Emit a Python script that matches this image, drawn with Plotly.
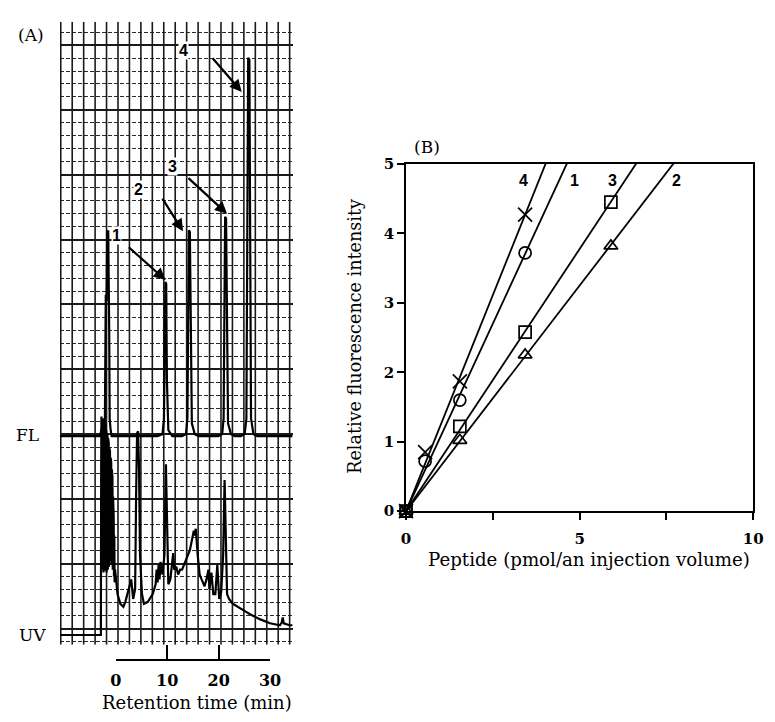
import plotly.graph_objects as go

# ---------------- Panel A: chromatogram (retention time in min, signal in arbitrary units)
fl_time = [-10.9, -3.10, -2.72, -2.53, -2.34, -2.15, -1.96, -1.81, -1.67, -1.48, -1.29, -1.20, -1.01, -0.82,
           8.10, 9.07, 9.36, 9.55, 9.64, 9.80, 9.93, 10.21, 10.97,
           12.88, 13.64, 13.92, 14.11, 14.21, 14.40, 14.59, 14.78, 15.35, 16.11,
           19.92, 20.68, 20.96, 21.15, 21.25, 21.44, 21.63, 21.82, 22.39, 23.15,
           24.29, 25.05, 25.39, 25.62, 25.74, 25.97, 26.10, 26.29, 26.76, 27.52, 34.4]
fl_signal = [212, 212, 220, 205, 230, 210, 357, 350, 422, 422, 320, 230, 218, 212,
             212, 214, 230, 320, 370, 368, 270, 218, 212,
             212, 214, 230, 350, 423, 421, 320, 225, 214, 212,
             212, 214, 230, 350, 437, 435, 320, 225, 214, 212,
             212, 214, 230, 450, 600, 598, 450, 230, 214, 212, 212]

uv_time = [-10.9, -2.91, -2.85, -2.80, -2.75, -2.70, -2.64, -2.58, -2.52, -2.46, -2.40, -2.34, -2.28,
           -2.22, -2.16, -2.10, -2.04, -1.98, -1.92, -1.86, -1.80, -1.74, -1.68, -1.62, -1.56, -1.50,
           -1.44, -1.38, -1.32, -1.26, -1.20, -1.14, -1.08, -1.02, -0.96, -0.90, -0.84, -0.78, -0.72,
           -0.66, -0.60, -0.54, -0.48, -0.42, -0.36, -0.30, -0.24, -0.15,
           -0.06, 0.32, 0.89, 1.46, 1.85, 2.23, 2.61, 2.99, 3.37, 3.75, 3.94, 4.13,
           4.32, 4.51, 4.70, 5.08, 5.46, 6.22, 7.17, 7.74, 7.93, 8.12, 8.31, 8.50, 8.69, 9.07, 9.45,
           9.74, 10.02, 10.21, 10.60, 10.97, 11.16, 11.35, 11.74, 12.12, 12.50, 12.88, 13.26, 13.64,
           14.02, 14.40, 14.78, 15.16, 15.35, 15.54, 15.92, 16.30, 16.68, 17.25, 17.63, 18.01, 18.20,
           18.58, 18.96, 19.35, 19.73, 20.11, 20.49, 20.87, 21.15, 21.44, 21.63, 22.01, 22.77, 24.29,
           26.19, 28.09, 29.99, 31.89, 32.27, 32.46, 32.65, 33.79, 34.4]
uv_signal = [8, 8, 180, 232, 90, 228, 75, 230, 80, 225, 72, 222, 78,
             226, 74, 220, 80, 224, 76, 218, 72, 215, 82, 212, 75, 210,
             85, 205, 78, 200, 90, 196, 84, 190, 88, 185, 80, 178, 92,
             170, 75, 150, 82, 130, 68, 110, 62, 75,
             70, 50, 40, 37, 42, 50, 60, 65, 45, 55, 150, 215,
             217, 180, 90, 50, 40, 42, 50, 60, 75, 62, 80, 65, 83, 70, 90,
             183, 110, 60, 65, 80, 92, 75, 78, 70, 75, 75, 80, 85,
             90, 95, 105, 115, 110, 117, 90, 70, 65, 58, 65, 75, 55,
             72, 50, 50, 80, 45, 52, 90, 167, 100, 50, 45, 40, 35,
             29, 24, 20, 18, 21, 26, 20, 18, 18]

time_ticks = [0, 10, 20, 30]
peak_labels = ["1", "2", "3", "4"]
label_time = [0.13, 4.34, 10.98, 13.07]
label_signal = [418, 465, 488, 607]
arrow_tail_time = [2.23, 8.88, 13.83, 18.58]
arrow_tail_signal = [407, 457, 478, 601]
arrow_head_time = [9.68, 13.07, 21.63, 24.48]
arrow_head_signal = [372, 422, 440, 565]

# ---------------- Panel B: calibration lines
x_low = [0, 0.55, 1.55, 3.43]
x_high = [0, 1.55, 3.43, 5.9]
y_pep4 = [0, 0.85, 1.87, 4.27]
y_pep1 = [0, 0.72, 1.60, 3.72]
y_pep3 = [0, 1.22, 2.58, 4.45]
y_pep2 = [0, 1.02, 2.25, 3.82]
series_names = ["4", "1", "3", "2"]
series_x = [x_low, x_low, x_high, x_high]
series_y = [y_pep4, y_pep1, y_pep3, y_pep2]
series_symbols = ["x-thin-open", "circle-open", "square-open", "triangle-up-open"]
series_sizes = [14, 12, 12, 12]
series_label_x = [3.38, 4.85, 5.95, 7.78]
series_label_y = [4.76, 4.76, 4.76, 4.76]
x_tick_vals = [0, 2.5, 5, 7.5, 10]
x_tick_text = ["0", "", "5", "", "10"]
y_tick_vals = [0, 1, 2, 3, 4, 5]

W, H = 775, 722
SERIF = "DejaVu Serif"
SANS = "Liberation Sans"

# chart-paper grid (styling): vertical rulings every 2.2256 min starting at -10.71 min
chart_grid = [-10.71 + 2.2256 * k for k in range(21)]
Y_LO, Y_HI = -2, 637

fig = go.Figure()

# vertical rulings of the recorder chart paper
rx, ry = [], []
for g in chart_grid:
    rx += [g, g, None]
    ry += [Y_LO, Y_HI, None]
fig.add_trace(go.Scatter(x=rx, y=ry, mode="lines", line=dict(color="#1a1a1a", width=1.6),
                         xaxis="x", yaxis="y", showlegend=False, hoverinfo="skip"))

fig.add_trace(go.Scatter(x=fl_time, y=fl_signal, mode="lines", line=dict(color="black", width=2.2),
                         xaxis="x", yaxis="y", showlegend=False, hoverinfo="skip"))
fig.add_trace(go.Scatter(x=uv_time, y=uv_signal, mode="lines", line=dict(color="black", width=2.2),
                         xaxis="x", yaxis="y", showlegend=False, hoverinfo="skip"))
# carrier trace for the time bracket axis
fig.add_trace(go.Scatter(x=time_ticks, y=[0] * len(time_ticks), mode="markers", marker=dict(opacity=0),
                         xaxis="x3", yaxis="y3", showlegend=False, hoverinfo="skip"))

for xs, ys, sym, sz in zip(series_x, series_y, series_symbols, series_sizes):
    sxy = sum(a * b for a, b in zip(xs, ys))
    sxx = sum(a * a for a in xs)
    slope = sxy / sxx
    fig.add_trace(go.Scatter(x=[0, 10], y=[0, slope * 10], mode="lines",
                             line=dict(color="black", width=1.8), xaxis="x2", yaxis="y2",
                             showlegend=False, hoverinfo="skip"))
    fig.add_trace(go.Scatter(x=xs, y=ys, mode="markers", cliponaxis=False,
                             marker=dict(symbol=sym, size=sz, color="black",
                                         line=dict(color="black", width=1.7)),
                             xaxis="x2", yaxis="y2", showlegend=False))

ann = []
for t, s, lab in zip(label_time, label_signal, peak_labels):
    ann.append(dict(x=t, y=s, xref="x", yref="y", text=lab, showarrow=False, bgcolor="white",
                    borderpad=0,
                    font=dict(family=SANS, size=16, color="black", weight="bold")))
for hx, hy, tx, ty in zip(arrow_head_time, arrow_head_signal, arrow_tail_time, arrow_tail_signal):
    ann.append(dict(x=hx, y=hy, xref="x", yref="y", ax=tx, ay=ty, axref="x", ayref="y",
                    text="", showarrow=True, arrowhead=2, arrowsize=1.1, arrowwidth=2.2,
                    arrowcolor="black"))
for lx, ly, lab in zip(series_label_x, series_label_y, series_names):
    ann.append(dict(x=lx, y=ly, xref="x2", yref="y2", text=lab, showarrow=False,
                    font=dict(family=SANS, size=16, color="black", weight="bold")))

def ptext(px, py, text, size, family=SERIF, angle=0, weight="normal"):
    return dict(x=px / W, y=1 - py / H, xref="paper", yref="paper", text=text, showarrow=False,
                textangle=angle, font=dict(family=family, size=size, color="black", weight=weight),
                xanchor="center", yanchor="middle")

ann += [
    ptext(26, 27, "(A)", 17),
    ptext(22, 437, "FL", 17),
    ptext(27, 642, "UV", 17),
    ptext(195, 711, "Retention time (min)", 18),
    ptext(430, 142, "(B)", 17),
    ptext(356, 336, "Relative fluorescence intensity", 17.6, angle=-90),
    ptext(596, 565, "Peptide (pmol/an injection volume)", 18.2),
]

grid_col = "#1a1a1a"
fig.update_layout(
    width=W, height=H, margin=dict(l=0, r=0, t=0, b=0),
    paper_bgcolor="white", plot_bgcolor="white",
    annotations=ann,
    xaxis=dict(domain=[55 / W, 293 / W], range=[-10.9, 34.37], anchor="y",
               showgrid=False, showticklabels=False, ticks="", zeroline=False, showline=False),
    yaxis=dict(domain=[1 - 652 / H, 1 - 13 / H], range=[Y_LO, Y_HI], anchor="x",
               showgrid=True, gridcolor=grid_col, gridwidth=2, tick0=14.5, dtick=66.5,
               minor=dict(tick0=14.5, dtick=13.3, showgrid=True, gridcolor="#2a2a2a",
                          gridwidth=1.4, griddash="4px,2px"),
               showticklabels=False, ticks="", zeroline=False, showline=False),
    xaxis3=dict(domain=[112.3 / W, 270 / W], range=[0, 30], anchor="free", position=1 - 668 / H,
                showgrid=False, zeroline=False, showline=True, linecolor="black", linewidth=1.6,
                ticks="inside", ticklen=15, tickwidth=1.6, tickcolor="black",
                tickvals=time_ticks, ticklabelstandoff=6,
                tickfont=dict(family=SERIF, size=16, color="black", weight="bold")),
    yaxis3=dict(domain=[0.0, 0.05], anchor="x3", visible=False, range=[-1, 1]),
    xaxis2=dict(domain=[409 / W, 764 / W], range=[0, 10], anchor="y2",
                showline=True, mirror=True, linecolor="black", linewidth=1.6,
                ticks="outside", ticklen=7, tickwidth=1.6, tickcolor="black",
                tickvals=x_tick_vals, ticktext=x_tick_text, showgrid=False, zeroline=False,
                ticklabelstandoff=6,
                tickfont=dict(family=SERIF, size=15, color="black", weight="bold")),
    yaxis2=dict(domain=[1 - 515 / H, 1 - 159 / H], range=[0, 5], anchor="x2",
                showline=True, mirror=True, linecolor="black", linewidth=1.6,
                ticks="outside", ticklen=7, tickwidth=1.6, tickcolor="black",
                tickvals=y_tick_vals, showgrid=False, zeroline=False,
                tickfont=dict(family=SERIF, size=15, color="black", weight="bold")),
)

fig.write_html("out.html")
